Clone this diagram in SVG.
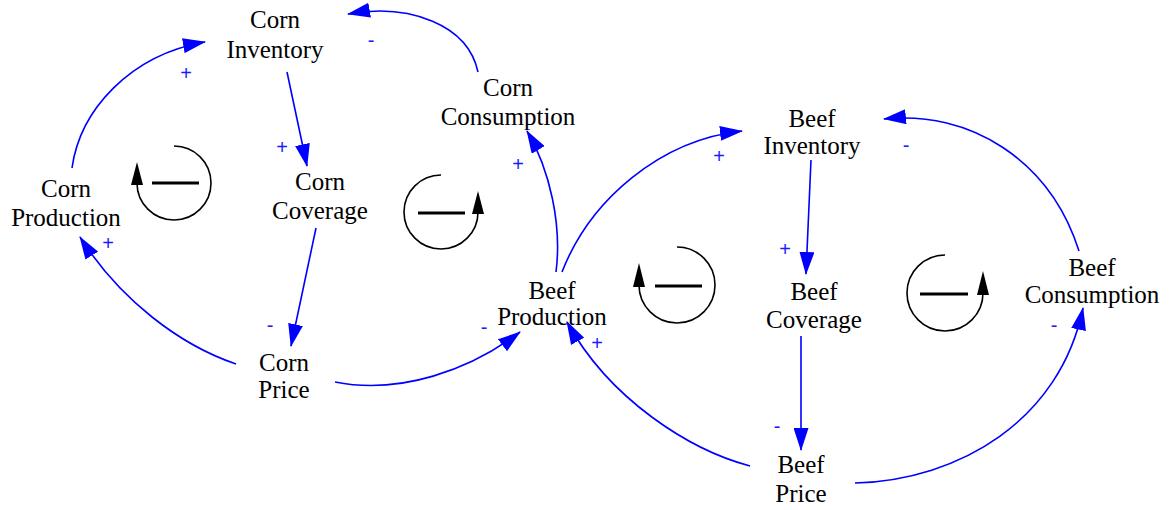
<svg xmlns="http://www.w3.org/2000/svg" width="1169" height="510" viewBox="0 0 1169 510">
  <defs>
    <style>
      .lbl { font-family: "Liberation Serif", "Times New Roman", serif; font-size: 25px; fill: #000; text-anchor: middle; }
      .pol { font-family: "Liberation Sans", Arial, sans-serif; font-size: 20px; fill: #1a1aff; text-anchor: middle; }
      .link { fill: none; stroke: #0000ff; stroke-width: 1.6; marker-end: url(#head); }
      .loop { fill: none; stroke: #000; stroke-width: 1.6; }
      .bar { stroke: #000; stroke-width: 3.2; }
      .tip { fill: #000; }
    </style>
    <marker id="head" viewBox="0 0 23 15" refX="22" refY="7.5" markerWidth="23" markerHeight="15" markerUnits="userSpaceOnUse" orient="auto">
      <path d="M0,0 L23,7.5 L0,15 z" fill="#0000ff"/>
    </marker>
  </defs>
  <rect width="1169" height="510" fill="#fff"/>

  <!-- causal links -->
  <g id="links">
    <path class="link" d="M72,168 C80,110 130,55 205,42"/>
    <path class="link" d="M287,72 L307,166"/>
    <path class="link" d="M316,228 L291,346"/>
    <path class="link" d="M236,364 C180,345 120,300 80,237"/>
    <path class="link" d="M478,72 C468,25 410,3 348,14"/>
    <path class="link" d="M556,272 C562,225 550,170 527,131"/>
    <path class="link" d="M335,382 C400,395 470,370 520,332"/>
    <path class="link" d="M562,272 C590,200 660,140 742,131"/>
    <path class="link" d="M811,160 L806,274"/>
    <path class="link" d="M801,336 L801,450"/>
    <path class="link" d="M750,466 C690,450 610,400 567,322"/>
    <path class="link" d="M855,483 C960,480 1060,420 1083,308"/>
    <path class="link" d="M1079,251 C1050,160 970,110 884,119"/>
  </g>

  <!-- link polarities -->
  <g id="polarities">
    <text class="pol" x="186" y="80">+</text>
    <text class="pol" x="371" y="47">-</text>
    <text class="pol" x="282" y="154">+</text>
    <text class="pol" x="270" y="332">-</text>
    <text class="pol" x="108" y="250">+</text>
    <text class="pol" x="518" y="171">+</text>
    <text class="pol" x="484" y="334">-</text>
    <text class="pol" x="719" y="163">+</text>
    <text class="pol" x="906" y="152">-</text>
    <text class="pol" x="785" y="256">+</text>
    <text class="pol" x="777" y="433">-</text>
    <text class="pol" x="597" y="350">+</text>
    <text class="pol" x="1054" y="332">-</text>
  </g>

  <!-- variables -->
  <g id="corn-inventory"><text class="lbl" x="275" y="28">Corn</text><text class="lbl" x="275" y="58">Inventory</text></g>
  <g id="corn-coverage"><text class="lbl" x="320" y="190">Corn</text><text class="lbl" x="320" y="219">Coverage</text></g>
  <g id="corn-price"><text class="lbl" x="284" y="371">Corn</text><text class="lbl" x="284" y="398">Price</text></g>
  <g id="corn-production"><text class="lbl" x="66" y="197">Corn</text><text class="lbl" x="66" y="226">Production</text></g>
  <g id="corn-consumption"><text class="lbl" x="508" y="96">Corn</text><text class="lbl" x="508" y="125">Consumption</text></g>
  <g id="beef-inventory"><text class="lbl" x="812" y="127">Beef</text><text class="lbl" x="812" y="154">Inventory</text></g>
  <g id="beef-coverage"><text class="lbl" x="814" y="300">Beef</text><text class="lbl" x="814" y="328">Coverage</text></g>
  <g id="beef-price"><text class="lbl" x="801" y="473">Beef</text><text class="lbl" x="801" y="502">Price</text></g>
  <g id="beef-production"><text class="lbl" x="552" y="299">Beef</text><text class="lbl" x="552" y="325">Production</text></g>
  <g id="beef-consumption"><text class="lbl" x="1092" y="276">Beef</text><text class="lbl" x="1092" y="303">Consumption</text></g>

  <!-- loop markers -->
  <g id="loop-corn-supply">
    <path class="loop" d="M174,146 A37,37 0 1 1 137,183"/>
    <path class="tip" d="M137,162 L131,185 L143,185 z"/>
    <line class="bar" x1="152" y1="183" x2="199" y2="183"/>
  </g>
  <g id="loop-corn-demand">
    <path class="loop" d="M441,175 A37,37 0 1 0 478,212"/>
    <path class="tip" d="M478,191 L472,214 L484,214 z"/>
    <line class="bar" x1="418" y1="213" x2="465" y2="213"/>
  </g>
  <g id="loop-beef-supply">
    <path class="loop" d="M677,247 A38,38 0 1 1 639,285"/>
    <path class="tip" d="M639,263 L633,287 L645,287 z"/>
    <line class="bar" x1="655" y1="286" x2="702" y2="286"/>
  </g>
  <g id="loop-beef-demand">
    <path class="loop" d="M945,255 A38,38 0 1 0 983,293"/>
    <path class="tip" d="M983,271 L977,295 L989,295 z"/>
    <line class="bar" x1="920" y1="294" x2="968" y2="294"/>
  </g>
</svg>
